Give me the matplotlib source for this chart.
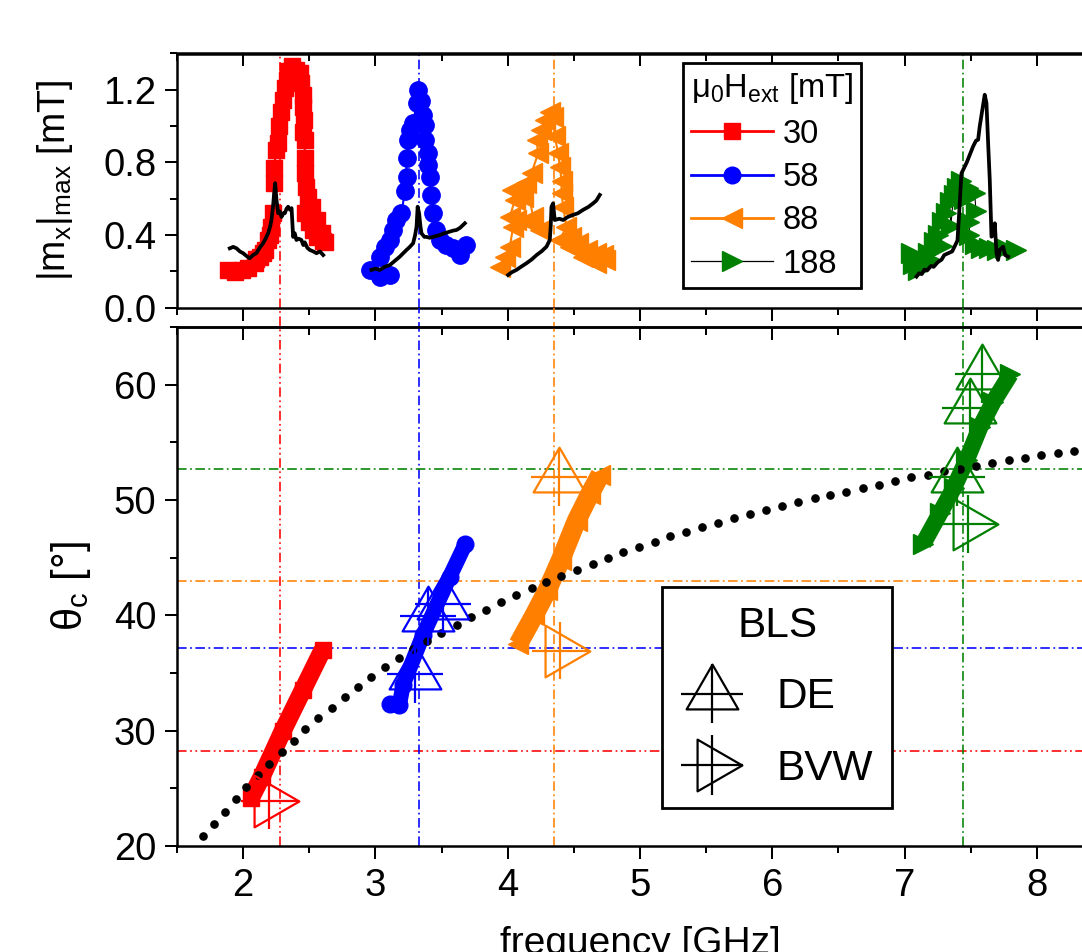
import numpy as np
import matplotlib
matplotlib.use("Agg")
import matplotlib.pyplot as plt
from matplotlib.lines import Line2D
from matplotlib.path import Path
from matplotlib.ticker import MultipleLocator, FormatStrFormatter
from matplotlib.legend_handler import HandlerErrorbar
from matplotlib.container import ErrorbarContainer

plt.rcParams['font.family'] = ['Liberation Sans', 'DejaVu Sans']
plt.rcParams['mathtext.fontset'] = 'custom'
plt.rcParams['mathtext.rm'] = 'Liberation Sans'
plt.rcParams['mathtext.it'] = 'Liberation Sans:italic'
plt.rcParams['mathtext.bf'] = 'Liberation Sans:bold'
plt.rcParams['mathtext.sf'] = 'Liberation Sans'

RED, BLUE, ORANGE, GREEN = '#FF0000', '#0000FF', '#FF8000', '#008000'

# ---------------- top panel: simulated |m_x|max vs frequency ----------------
f30 = [1.887, 1.937, 1.988, 2.038, 2.088, 2.126, 2.10, 2.15, 2.164, 2.189, 2.20, 2.207,
       2.227, 2.232, 2.232, 2.252, 2.265, 2.272, 2.283, 2.302, 2.315, 2.328, 2.340, 2.366,
       2.403, 2.428, 2.440, 2.453, 2.453, 2.458, 2.453, 2.466, 2.466, 2.471, 2.476, 2.491,
       2.47, 2.50, 2.524, 2.53, 2.555, 2.56, 2.593, 2.60, 2.618]
m30 = [0.208, 0.198, 0.208, 0.217, 0.245, 0.281, 0.27, 0.30, 0.318, 0.373, 0.40, 0.447,
       0.520, 0.686, 0.768, 0.869, 0.906, 0.998, 1.080, 1.145, 1.210, 1.255, 1.301, 1.329,
       1.310, 1.292, 1.237, 1.172, 1.108, 1.035, 0.970, 0.924, 0.824, 0.741, 0.667, 0.612,
       0.52, 0.47, 0.556, 0.43, 0.483, 0.39, 0.410, 0.37, 0.364]

f58 = [2.958, 3.033, 3.109, 3.033, 3.071, 3.109, 3.134, 3.159, 3.197, 3.222, 3.235, 3.235,
       3.247, 3.260, 3.285, 3.311, 3.323, 3.348, 3.361, 3.373, 3.373, 3.398, 3.398, 3.411,
       3.423, 3.436, 3.461, 3.487, 3.537, 3.587, 3.638, 3.688]
m58 = [0.208, 0.171, 0.180, 0.281, 0.336, 0.373, 0.428, 0.483, 0.520, 0.640, 0.722, 0.824,
       0.924, 0.980, 1.017, 1.127, 1.200, 1.136, 1.062, 1.007, 0.924, 0.851, 0.787, 0.722,
       0.621, 0.520, 0.428, 0.373, 0.345, 0.327, 0.290, 0.345]

f88 = [3.940, 3.978, 4.016, 4.041, 4.016, 4.054, 4.029, 4.091, 4.117, 4.066, 4.167, 4.243,
       4.192, 4.142, 4.180, 4.230, 4.218, 4.255, 4.280, 4.318, 4.343, 4.356, 4.381, 4.394,
       4.407, 4.407, 4.419, 4.444, 4.394, 4.482, 4.469, 4.532, 4.570, 4.596, 4.671, 4.671,
       4.721, 4.734]
m88 = [0.226, 0.281, 0.336, 0.447, 0.500, 0.594, 0.649, 0.667, 0.612, 0.483, 0.465, 0.428,
       0.500, 0.686, 0.741, 0.851, 0.924, 0.980, 1.035, 1.080, 1.053, 0.943, 0.851, 0.777,
       0.700, 0.631, 0.556, 0.447, 0.373, 0.390, 0.336, 0.355, 0.281, 0.318, 0.300, 0.245,
       0.290, 0.263]

f188 = [7.05, 7.06, 7.10, 7.14, 7.18, 7.20, 7.22, 7.25, 7.28, 7.28, 7.31, 7.34, 7.35,
        7.37, 7.40, 7.43, 7.45, 7.48, 7.53, 7.54, 7.49, 7.49, 7.53, 7.58, 7.64, 7.70,
        7.76, 7.84]
m188 = [0.30, 0.24, 0.21, 0.26, 0.30, 0.26, 0.36, 0.40, 0.34, 0.47, 0.52, 0.58, 0.45,
        0.62, 0.66, 0.70, 0.60, 0.66, 0.63, 0.53, 0.47, 0.40, 0.35, 0.33, 0.33, 0.32,
        0.33, 0.32]

# measured black curves
fb30 = [1.899, 1.925, 1.950, 1.975, 2.000, 2.025, 2.050, 2.075, 2.100, 2.125, 2.151, 2.170,
        2.189, 2.205, 2.214, 2.225, 2.232, 2.242, 2.252, 2.265, 2.278, 2.290, 2.303, 2.315,
        2.328, 2.340, 2.353, 2.366, 2.372, 2.378, 2.390, 2.403, 2.420, 2.440, 2.455, 2.466,
        2.485, 2.504, 2.530, 2.555, 2.580, 2.605]
mb30 = [0.327, 0.335, 0.327, 0.310, 0.300, 0.285, 0.272, 0.290, 0.300, 0.330, 0.355, 0.380,
        0.410, 0.450, 0.483, 0.550, 0.610, 0.686, 0.594, 0.520, 0.530, 0.500, 0.520, 0.520,
        0.545, 0.556, 0.540, 0.548, 0.470, 0.390, 0.410, 0.373, 0.380, 0.373, 0.345, 0.360,
        0.330, 0.318, 0.310, 0.300, 0.310, 0.290]
fb58 = [2.970, 3.000, 3.033, 3.070, 3.109, 3.150, 3.184, 3.210, 3.235, 3.260, 3.285, 3.300,
        3.311, 3.319, 3.330, 3.340, 3.348, 3.370, 3.386, 3.410, 3.436, 3.460, 3.487, 3.520,
        3.562, 3.590, 3.613, 3.640, 3.676]
mb58 = [0.208, 0.215, 0.208, 0.225, 0.235, 0.260, 0.281, 0.300, 0.318, 0.335, 0.355, 0.400,
        0.447, 0.556, 0.520, 0.450, 0.410, 0.390, 0.390, 0.385, 0.390, 0.395, 0.400, 0.410,
        0.419, 0.425, 0.428, 0.440, 0.465]
fb88 = [4.003, 4.030, 4.066, 4.100, 4.142, 4.180, 4.218, 4.255, 4.293, 4.318, 4.325, 4.331,
        4.343, 4.350, 4.356, 4.390, 4.419, 4.455, 4.494, 4.530, 4.570, 4.610, 4.646, 4.670,
        4.696]
mb88 = [0.180, 0.195, 0.208, 0.225, 0.245, 0.265, 0.290, 0.310, 0.336, 0.373, 0.450, 0.556,
        0.575, 0.520, 0.483, 0.490, 0.483, 0.500, 0.511, 0.520, 0.539, 0.555, 0.575, 0.590,
        0.621]
fb188 = [7.09, 7.11, 7.13, 7.15, 7.17, 7.20, 7.22, 7.25, 7.28, 7.30, 7.33, 7.36, 7.40,
         7.415, 7.43, 7.47, 7.518, 7.54, 7.556, 7.568, 7.59, 7.606, 7.619, 7.632, 7.644,
         7.657, 7.67, 7.682, 7.695, 7.707, 7.72, 7.745, 7.76, 7.782]
mb188 = [0.171, 0.19, 0.185, 0.21, 0.205, 0.23, 0.225, 0.25, 0.265, 0.29, 0.30, 0.31, 0.37,
         0.55, 0.74, 0.80, 0.888, 0.92, 0.925, 0.998, 1.10, 1.173, 1.127, 0.90, 0.704,
         0.391, 0.40, 0.465, 0.30, 0.263, 0.32, 0.336, 0.29, 0.281]

# ---------------- bottom panel: theta_c vs frequency ----------------
tf30 = [2.06, 2.14, 2.30, 2.45, 2.60]
tt30 = [24.2, 26.0, 30.0, 33.5, 37.0]
tf58 = [3.11, 3.18, 3.21, 3.36, 3.56, 3.68]
tt58 = [32.3, 32.2, 34.0, 38.3, 43.3, 46.2]
tf88 = [4.08, 4.20, 4.30, 4.40, 4.52, 4.62, 4.70]
tt88 = [37.5, 40.0, 42.2, 44.8, 48.2, 50.5, 52.2]
tf188 = [7.14, 7.27, 7.37, 7.47, 7.57, 7.67, 7.80]
tt188 = [46.2, 48.9, 51.0, 53.5, 56.3, 58.5, 60.9]

# analytic dotted curve
fdot = [1.698, 1.779, 1.862, 1.945, 2.025, 2.109, 2.197, 2.290, 2.383, 2.471, 2.567, 2.668,
        2.769, 2.869, 2.970, 3.076, 3.179, 3.285, 3.391, 3.499, 3.613, 3.726, 3.839, 3.953,
        4.066, 4.180, 4.293, 4.406, 4.525, 4.646, 4.759, 4.873, 4.994, 5.112, 5.230, 5.351,
        5.472, 5.590, 5.711, 5.830, 5.951, 6.074, 6.195, 6.321, 6.439, 6.560, 6.686, 6.807,
        6.926, 7.052, 7.178, 7.299, 7.418, 7.543, 7.664, 7.790, 7.909, 8.034, 8.160, 8.279,
        8.400]
tdot = [20.85, 21.87, 22.93, 24.10, 25.10, 26.18, 27.13, 28.19, 29.14, 30.14, 31.07, 32.00,
        32.92, 33.79, 34.69, 35.49, 36.26, 37.04, 37.78, 38.46, 39.17, 39.83, 40.50, 41.13,
        41.74, 42.36, 42.89, 43.44, 43.97, 44.46, 44.99, 45.46, 45.92, 46.39, 46.85, 47.25,
        47.62, 48.02, 48.40, 48.77, 49.11, 49.48, 49.79, 50.16, 50.47, 50.72, 51.02, 51.33,
        51.65, 51.96, 52.20, 52.48, 52.73, 52.97, 53.19, 53.44, 53.66, 53.87, 54.06, 54.27,
        54.46]

# BLS measurements
de_f = [3.298, 3.398, 3.512, 4.389, 7.589, 7.493, 7.397]
de_t = [34.93, 39.95, 40.97, 51.96, 60.93, 57.99, 51.96]
de_c = [BLUE, BLUE, BLUE, ORANGE, GREEN, GREEN, GREEN]
bvw_f = [2.194, 4.394, 7.480]
bvw_t = [23.94, 36.94, 47.94]
bvw_c = [RED, ORANGE, GREEN]
bls_xerr = 0.21
bls_yerr = 2.5

# guide lines
guide_f = [2.277, 3.33, 4.35, 7.44]
guide_t = [28.2, 37.2, 43.0, 52.7]
guide_c = [RED, BLUE, ORANGE, GREEN]

# ---------------- figure ----------------
W, H = 1082, 952
fig = plt.figure(figsize=(W / 100, H / 100), dpi=100)
ax1 = fig.add_axes([177 / W, 1 - 307.7 / H, 926 / W, (307.7 - 53.5) / H])
ax2 = fig.add_axes([177 / W, 1 - 846 / H, 926 / W, (846 - 327) / H])

SPW = 1.8
for ax in (ax1, ax2):
    ax.set_xlim(1.5, 8.5)
    ax.xaxis.set_major_locator(MultipleLocator(1))
    ax.xaxis.set_minor_locator(MultipleLocator(0.5))
    ax.tick_params(axis='both', which='both', direction='out', width=1.45,
                   labelsize=27.5, top=False, right=False)
    ax.tick_params(axis='both', which='major', length=9)
    ax.tick_params(axis='both', which='minor', length=5)
    ax.tick_params(axis='y', pad=6)
    ax.tick_params(axis='x', pad=7)
    for s in ax.spines.values():
        s.set_linewidth(SPW)
    sec = ax.secondary_xaxis('top')
    sec.xaxis.set_major_locator(MultipleLocator(1))
    sec.xaxis.set_minor_locator(MultipleLocator(0.5))
    sec.tick_params(axis='x', which='both', direction='in', labeltop=False, width=1.45)
    sec.tick_params(axis='x', which='major', length=9)
    sec.tick_params(axis='x', which='minor', length=6)
    sec.spines['top'].set_linewidth(SPW)

ax1.tick_params(axis='x', labelbottom=False)
ax1.set_ylim(0, 1.4)
ax1.yaxis.set_major_locator(MultipleLocator(0.4))
ax1.yaxis.set_minor_locator(MultipleLocator(0.2))
ax1.yaxis.set_major_formatter(FormatStrFormatter('%.1f'))
ax2.set_ylim(20, 65)
ax2.yaxis.set_major_locator(MultipleLocator(10))
ax2.yaxis.set_minor_locator(MultipleLocator(5))

dd = (0, (6.0, 2.2, 1.1, 2.2))
ddd = (0, (6.0, 2.2, 1.1, 2.2, 1.1, 2.2))
gap = (327 - 307.7) / (846 - 327)
for x, y, c in zip(guide_f, guide_t, guide_c):
    ls = ddd if c == RED else dd
    ax1.axvline(x, color=c, lw=1.15, ls=ls, zorder=1)
    ax2.axvline(x, 0, 1 + gap, color=c, lw=1.15, ls=ls, zorder=1, clip_on=False)
    ax2.axhline(y, color=c, lw=1.15, ls=ls, zorder=1)

# top panel
ax1.plot(f30, m30, color=RED, lw=1.5, marker='s', ms=12, mec=RED, zorder=2)
ax1.plot(f58, m58, color=BLUE, lw=1.5, marker='o', ms=12.5, mec=BLUE, zorder=2)
ax1.plot(f88, m88, color=ORANGE, lw=1.5, marker='<', ms=15, mec=ORANGE, zorder=2)
ax1.plot(f188, m188, color='k', lw=0.8, marker='>', ms=15, mfc=GREEN, mec=GREEN, zorder=2)
for fb, mb in ((fb30, mb30), (fb58, mb58), (fb88, mb88), (fb188, mb188)):
    ax1.plot(fb, mb, color='k', lw=2.7, zorder=3)

# bottom panel bands
ax2.plot(tf30, tt30, color=RED, lw=13, marker='s', ms=12, solid_capstyle='butt', zorder=2)
ax2.plot(tf58, tt58, color=BLUE, lw=11, marker='o', ms=12, solid_capstyle='round', zorder=2)
ax2.plot(tf88, tt88, color=ORANGE, lw=14, marker='<', ms=14, solid_capstyle='butt', zorder=2)
ax2.plot(tf188, tt188, color=GREEN, lw=12, marker='>', ms=14, solid_capstyle='butt', zorder=2)
ax2.plot(fdot, tdot, ls='none', marker='o', ms=5.2, color='k', zorder=4)

tri_up = Path([(0, 1), (-0.866, -0.5), (0.866, -0.5), (0, 1)],
              [Path.MOVETO, Path.LINETO, Path.LINETO, Path.CLOSEPOLY])
tri_right = Path([(1, 0), (-0.5, 0.866), (-0.5, -0.866), (1, 0)],
                 [Path.MOVETO, Path.LINETO, Path.LINETO, Path.CLOSEPOLY])
MS = 43
ekw = dict(ls='none', mfc='none', ms=MS, mew=1.6, elinewidth=1.6, capsize=0, zorder=6)
for x, y, c in zip(de_f, de_t, de_c):
    ax2.errorbar([x], [y], xerr=bls_xerr, yerr=bls_yerr, marker=tri_up, color=c, **ekw)
for x, y, c in zip(bvw_f, bvw_t, bvw_c):
    ax2.errorbar([x], [y], xerr=bls_xerr, yerr=bls_yerr, marker=tri_right, color=c, **ekw)

# legend-only handles for BLS
h_de = ax2.errorbar([np.nan], [np.nan], xerr=bls_xerr, yerr=bls_yerr, marker=tri_up,
                    color='k', **ekw)
h_bvw = ax2.errorbar([np.nan], [np.nan], xerr=bls_xerr, yerr=bls_yerr, marker=tri_right,
                     color='k', **ekw)

# labels
ax1.set_ylabel(r'$\mathregular{|m_x|_{max}}$ [mT]', fontsize=27)
ax1.yaxis.set_label_coords((75 - 177) / 926, 0.5)
ax2.set_ylabel(r'$\mathregular{θ_c}$ [°]', fontsize=30)
ax2.yaxis.set_label_coords((93 - 177) / 926, 0.5)
ax2.set_xlabel('frequency [GHz]', fontsize=28)
ax2.xaxis.set_label_coords(0.5, (846 - 926) / 519)

# legend 1
hs = [Line2D([], [], color=RED, lw=2, marker='s', ms=11),
      Line2D([], [], color=BLUE, lw=2, marker='o', ms=12),
      Line2D([], [], color=ORANGE, lw=2, marker='<', ms=14),
      Line2D([], [], color='k', lw=0.9, marker='>', ms=14, mfc=GREEN, mec=GREEN)]
leg1 = fig.legend(hs, ['30', '58', '88', '188'], loc='upper left',
                  bbox_to_anchor=(683 / W, 1 - 63 / H), fontsize=23.5,
                  title=r'$\mathregular{μ_0H_{ext}}$ [mT]', title_fontsize=23.5,
                  handlelength=2.5, handletextpad=0.3, labelspacing=0.38,
                  borderpad=0.25, borderaxespad=0, fancybox=False, framealpha=1,
                  edgecolor='k', alignment='left')
leg1.get_frame().set_linewidth(2)

leg2 = fig.legend([h_de, h_bvw], ['DE', 'BVW'], loc='upper left',
                  bbox_to_anchor=(662 / W, 1 - 587 / H), fontsize=30.5,
                  title='BLS', title_fontsize=30.5, numpoints=1,
                  handler_map={ErrorbarContainer: HandlerErrorbar(xerr_size=0.73, yerr_size=0.70)},
                  handlelength=1.46, handletextpad=0.8, labelspacing=0.74,
                  borderpad=0.45, borderaxespad=0, fancybox=False, framealpha=1,
                  edgecolor='k')
leg2.get_frame().set_linewidth(2)

fig.savefig('out.png', dpi=100)
